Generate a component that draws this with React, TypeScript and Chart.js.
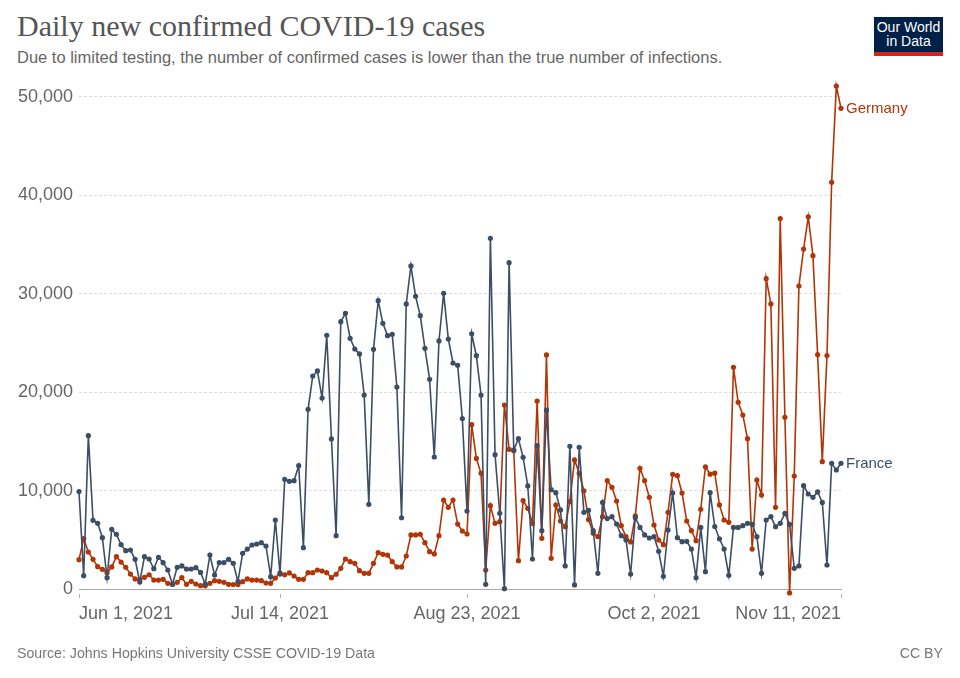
import React, { useEffect, useRef } from "react";
import { Chart, registerables } from "chart.js";

Chart.register(...registerables);

// Day index 0 = Jun 1, 2021 ... 163 = Nov 11, 2021
const dayIndex: number[] = Array.from({ length: 164 }, (_, i) => i);

const franceCases: number[] = [
  9900, 1350, 15580, 6980, 6670, 5210, 1150, 6060, 5550, 4500,
  3890, 3960, 3010, 710, 3280, 3050, 2060, 3220, 2670, 1930,
  480, 2200, 2340, 2030, 2030, 2170, 1680, 500, 3450, 1420,
  2680, 2680, 3010, 2610, 740, 3620, 4060, 4470, 4570, 4710,
  4370, 1250, 7010, 1520, 11140, 10940, 11000, 12530, 4200, 18250,
  21640, 22150, 19400, 25780, 15250, 5420, 27160, 28010, 25470, 24380,
  23880, 19710, 8600, 24350, 29290, 26990, 25740, 25870, 20520, 7240,
  28960, 32820, 29740, 27770, 24450, 21300, 13410, 25200, 30040, 25400,
  22960, 22720, 17320, 7920, 25920, 23700, 19710, 470, 35630, 13650,
  7690, 30, 33150, 14120, 15270, 13380, 10470, 3050, 14560, 5930,
  18170, 10090, 9790, 8030, 2340, 14500, 410, 14390, 7790, 8000,
  5930, 1590, 8800, 7150, 7350, 6600, 5420, 4980, 1520, 7250,
  6260, 5490, 5180, 5320, 3830, 1290, 5990, 9750, 5210, 4810,
  4840, 4060, 1150, 6260, 1760, 9790, 6350, 5100, 4060, 1390,
  6260, 6260, 6430, 6670, 6570, 5320, 1590, 7010, 7350, 6330,
  6670, 7690, 6570, 2100, 2340, 10500, 9650, 9310, 9860, 8800,
  2440, 12770, 12090, 12770,
];

const germanyCases: number[] = [
  2980, 5110, 3760, 3010, 2270, 2000, 1660, 2240, 3280, 2740,
  2200, 1520, 1020, 950, 1190, 1450, 910, 910, 980, 580,
  480, 680, 1150, 480, 780, 510, 340, 320, 580, 850,
  780, 680, 480, 450, 450, 740, 1020, 910, 910, 850,
  610, 580, 1120, 1630, 1450, 1630, 1320, 980, 980, 1660,
  1660, 1930, 1830, 1660, 1150, 1500, 2100, 3050, 2780, 2610,
  1860, 1590, 1590, 2610, 3690, 3520, 3450, 2780, 2240, 2240,
  3350, 5490, 5490, 5560, 4710, 3790, 3560, 5420, 9040, 8300,
  9040, 6600, 5880, 5590, 16690, 13270, 11750, 1930, 8470, 6670,
  6840, 18690, 14190, 14050, 2880, 8980, 8200, 6670, 19100, 5150,
  23780, 3120, 8530, 6910, 6330, 8870, 13110, 11750, 9980, 7050,
  5660, 5320, 7350, 11000, 10330, 8940, 6430, 5320, 4780, 7420,
  12260, 11000, 9310, 6500, 4980, 4500, 7790, 11650, 11510, 9750,
  6910, 5930, 4910, 8100, 12420, 11670, 11770, 8540, 7010, 6770,
  22520, 18960, 17670, 15270, 4060, 11070, 9550, 31530, 28960, 8300,
  37640, 17440, -400, 11480, 30780, 34540, 37810, 33860, 23810, 12940,
  23710, 41320, 51090, 48830,
];

const seriesNames: string[] = ["France", "Germany"];
const seriesColors: string[] = ["#3c4e66", "#b13507"];

const xTickDays: number[] = [0, 43, 83, 123, 163];
const xTickLabels: string[] = ["Jun 1, 2021", "Jul 14, 2021", "Aug 23, 2021", "Oct 2, 2021", "Nov 11, 2021"];
const yTickValues: number[] = [0, 10000, 20000, 30000, 40000, 50000];

const FONT = "'Liberation Sans', Arial, sans-serif";

const endLabelPlugin = {
  id: "endLabels",
  afterDatasetsDraw(chart: any) {
    const ctx = chart.ctx;
    ctx.save();
    ctx.font = `15px ${FONT}`;
    ctx.textBaseline = "middle";
    ctx.textAlign = "left";
    chart.data.datasets.forEach((ds: any, i: number) => {
      const meta = chart.getDatasetMeta(i);
      const pt = meta.data[meta.data.length - 1];
      if (!pt) return;
      ctx.fillStyle = ds.borderColor;
      ctx.fillText(ds.label, pt.x + 5, pt.y + 1);
    });
    ctx.restore();
  },
};

const tickMarkPlugin = {
  id: "tickMarks",
  afterDraw(chart: any) {
    const ctx = chart.ctx;
    const xs = chart.scales.x;
    const bottom = chart.chartArea.bottom;
    ctx.save();
    ctx.strokeStyle = "#b0b0b0";
    ctx.lineWidth = 1;
    xs.ticks.forEach((t: any) => {
      const x = Math.round(xs.getPixelForValue(t.value)) + 0.5;
      ctx.beginPath();
      ctx.moveTo(x, bottom + 5);
      ctx.lineTo(x, bottom + 9);
      ctx.stroke();
    });
    ctx.restore();
  },
};

export default function App() {
  const canvasRef = useRef<HTMLCanvasElement | null>(null);

  useEffect(() => {
    if (!canvasRef.current) return;
    const seriesValues = [franceCases, germanyCases];
    const chart = new Chart(canvasRef.current, {
      type: "line",
      data: {
        datasets: seriesNames.map((name, s) => ({
          label: name,
          data: seriesValues[s].map((v, i) => ({ x: dayIndex[i], y: v })),
          borderColor: seriesColors[s],
          backgroundColor: seriesColors[s],
          pointBackgroundColor: seriesColors[s],
          pointBorderWidth: 0,
          pointRadius: 2.6,
          borderWidth: 1.6,
          tension: 0,
          clip: false,
        })),
      },
      options: {
        animation: false,
        responsive: false,
        maintainAspectRatio: false,
        devicePixelRatio: 1,
        layout: { padding: { left: 17, right: 119, top: 86, bottom: 49 } },
        plugins: {
          legend: { display: false },
          tooltip: { enabled: false },
        },
        scales: {
          x: {
            type: "linear",
            min: 0,
            max: 163,
            afterBuildTicks: (axis: any) => {
              axis.ticks = xTickDays.map((v) => ({ value: v }));
            },
            afterFit: (axis: any) => {
              axis.height = 40;
            },
            ticks: {
              autoSkip: false,
              maxRotation: 0,
              align: "inner",
              padding: 14,
              color: "#666",
              font: { family: FONT, size: 18 },
              callback: (v: any) => xTickLabels[xTickDays.indexOf(Number(v))],
            },
            grid: { drawOnChartArea: false, drawTicks: false },
            border: { display: true, color: "#a8a8a8", width: 1 },
          },
          y: {
            type: "linear",
            min: 0,
            max: 51100,
            afterBuildTicks: (axis: any) => {
              axis.ticks = yTickValues.map((v) => ({ value: v }));
            },
            afterFit: (axis: any) => {
              axis.width = 62;
            },
            ticks: {
              padding: 6,
              color: "#666",
              font: { family: FONT, size: 18 },
              callback: (v: any) => Number(v).toLocaleString("en-US"),
            },
            grid: { color: "#dddddd", lineWidth: 1, drawTicks: false },
            border: { display: false, dash: [3, 2] },
          },
        },
      },
      plugins: [endLabelPlugin, tickMarkPlugin],
    } as any);
    return () => chart.destroy();
  }, []);

  return (
    <div style={{ position: "absolute", left: 0, top: 0, width: 960, height: 678, background: "#fff", overflow: "hidden" }}>
      <div
        style={{
          position: "absolute",
          left: 17,
          top: 9,
          font: "30px 'Liberation Serif', 'DejaVu Serif', serif",
          color: "#555",
          whiteSpace: "nowrap",
          lineHeight: "34px",
        }}
      >
        Daily new confirmed COVID-19 cases
      </div>
      <div
        style={{
          position: "absolute",
          left: 17,
          top: 47,
          font: `16.5px ${FONT}`,
          color: "#666",
          whiteSpace: "nowrap",
          lineHeight: "20px",
        }}
      >
        Due to limited testing, the number of confirmed cases is lower than the true number of infections.
      </div>
      <div
        style={{
          position: "absolute",
          left: 874,
          top: 17,
          width: 69,
          height: 35,
          background: "#002147",
          color: "#fff",
          font: "14px 'Liberation Sans Narrow', 'Liberation Sans', sans-serif",
          lineHeight: "14px",
          textAlign: "center",
          paddingTop: 3,
          boxSizing: "border-box",
        }}
      >
        Our World
        <br />
        in Data
      </div>
      <div style={{ position: "absolute", left: 874, top: 52, width: 69, height: 4, background: "#ce261e" }} />
      <canvas ref={canvasRef} width={960} height={678} style={{ position: "absolute", left: 0, top: 0, width: 960, height: 678 }} />
      <div
        style={{
          position: "absolute",
          left: 17,
          top: 645,
          font: `14.2px ${FONT}`,
          color: "#777",
          whiteSpace: "nowrap",
          lineHeight: "17px",
        }}
      >
        Source: Johns Hopkins University CSSE COVID-19 Data
      </div>
      <div
        style={{
          position: "absolute",
          right: 17,
          top: 645,
          font: `14.2px ${FONT}`,
          color: "#777",
          whiteSpace: "nowrap",
          lineHeight: "17px",
        }}
      >
        CC BY
      </div>
    </div>
  );
}
